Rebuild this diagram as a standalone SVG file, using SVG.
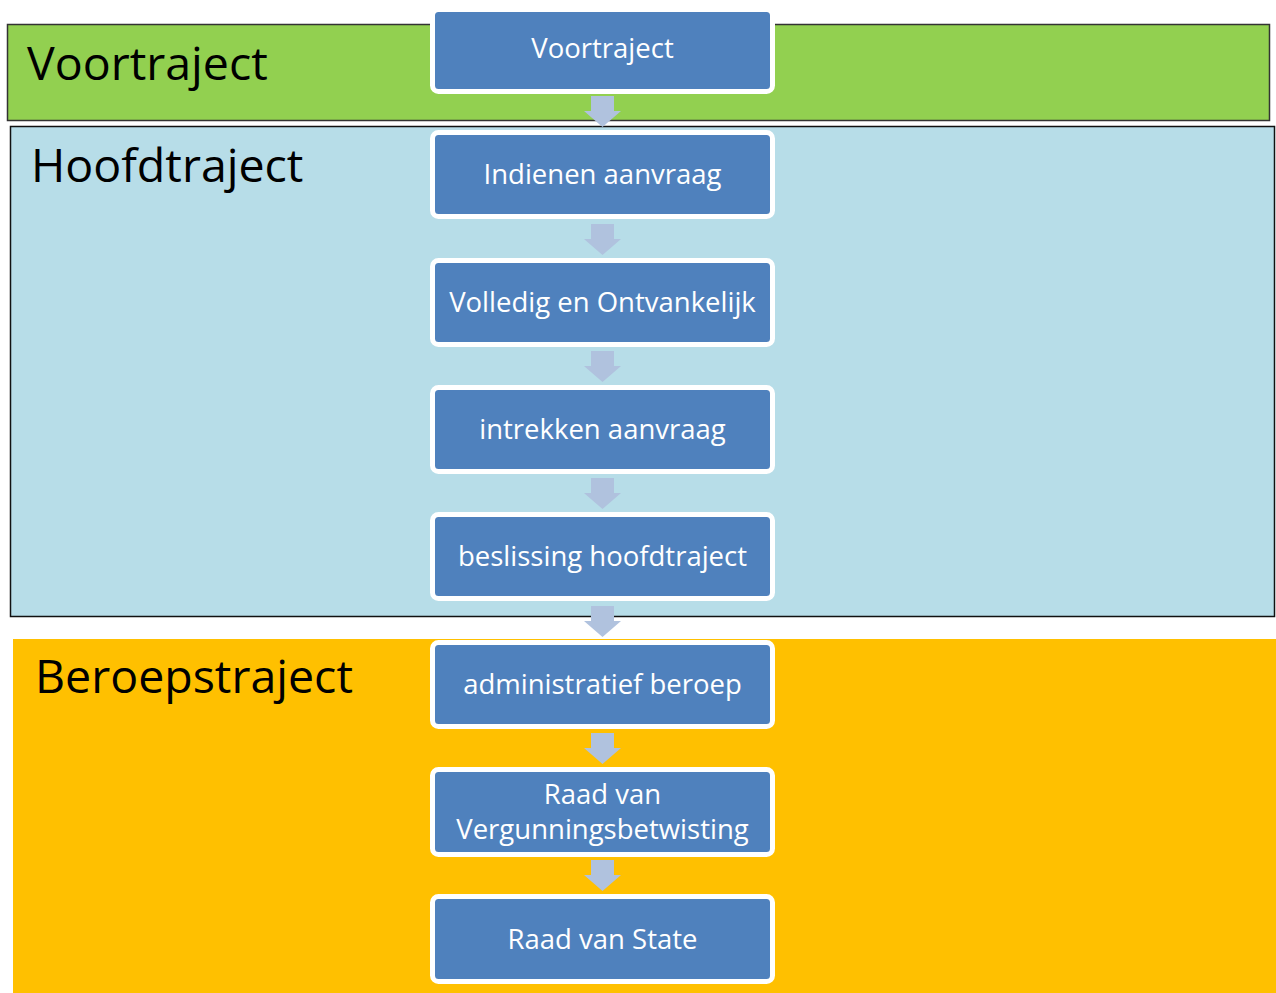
<svg xmlns="http://www.w3.org/2000/svg" width="1276" height="993" viewBox="0 0 1276 993">
  <defs>
    <style>
      .band-label { font-family: "Open Sans", "Liberation Sans", sans-serif; font-size: 46.5px; fill: #000; }
      .node rect { fill: #4F81BD; stroke: #FFFFFF; stroke-width: 5; }
      .node text { font-family: "Open Sans", "Liberation Sans", sans-serif; font-size: 27.5px; fill: #FFFFFF; text-anchor: middle; }
      .arrow { fill: #B0C2DE; }
    </style>
  </defs>
  <rect width="1276" height="993" fill="#FFFFFF"/>

  <!-- phase bands -->
  <g id="band-voortraject">
    <rect x="7.5" y="24.5" width="1262" height="96" fill="#92D050" stroke="#333" stroke-width="1.5"/>
    <text class="band-label" x="27" y="80">Voortraject</text>
  </g>
  <g id="band-hoofdtraject">
    <rect x="10.5" y="126.5" width="1264" height="490" fill="#B7DDE8" stroke="#111" stroke-width="1.5"/>
    <text class="band-label" x="31" y="182">Hoofdtraject</text>
  </g>
  <g id="band-beroepstraject">
    <rect x="13" y="639" width="1263" height="354" fill="#FFC000"/>
    <text class="band-label" x="35" y="693">Beroepstraject</text>
  </g>

  <!-- connectors -->
  <g id="connectors">
    <path class="arrow" d="M591,96 h23 v15 h7 l-18.5,16 l-18.5,-16 h7 z"/>
    <path class="arrow" d="M591,224 h23 v15 h7 l-18.5,16 l-18.5,-16 h7 z"/>
    <path class="arrow" d="M591,351 h23 v15 h7 l-18.5,16 l-18.5,-16 h7 z"/>
    <path class="arrow" d="M591,478 h23 v15 h7 l-18.5,16 l-18.5,-16 h7 z"/>
    <path class="arrow" d="M591,606 h23 v15 h7 l-18.5,16 l-18.5,-16 h7 z"/>
    <path class="arrow" d="M591,733 h23 v15 h7 l-18.5,16 l-18.5,-16 h7 z"/>
    <path class="arrow" d="M591,860 h23 v15 h7 l-18.5,16 l-18.5,-16 h7 z"/>
  </g>

  <!-- process steps -->
  <g id="node-voortraject" class="node">
    <rect x="432.5" y="9.5" width="340" height="82" rx="6"/>
    <text x="602.5" y="58">Voortraject</text>
  </g>
  <g id="node-indienen" class="node">
    <rect x="432.5" y="132.5" width="340" height="84" rx="6"/>
    <text x="602.5" y="184">Indienen aanvraag</text>
  </g>
  <g id="node-volledig" class="node">
    <rect x="432.5" y="260.5" width="340" height="84" rx="6"/>
    <text x="602.5" y="312">Volledig en Ontvankelijk</text>
  </g>
  <g id="node-intrekken" class="node">
    <rect x="432.5" y="387.5" width="340" height="84" rx="6"/>
    <text x="602.5" y="439">intrekken aanvraag</text>
  </g>
  <g id="node-beslissing" class="node">
    <rect x="432.5" y="514.5" width="340" height="84" rx="6"/>
    <text x="602.5" y="566">beslissing hoofdtraject</text>
  </g>
  <g id="node-administratief" class="node">
    <rect x="432.5" y="642.5" width="340" height="84" rx="6"/>
    <text x="602.5" y="694">administratief beroep</text>
  </g>
  <g id="node-rvvb" class="node">
    <rect x="432.5" y="769.5" width="340" height="85" rx="6"/>
    <text x="602.5" y="804">Raad van</text>
    <text x="602.5" y="839">Vergunningsbetwisting</text>
  </g>
  <g id="node-rvs" class="node">
    <rect x="432.5" y="896.5" width="340" height="85" rx="6"/>
    <text x="602.5" y="949">Raad van State</text>
  </g>
</svg>
